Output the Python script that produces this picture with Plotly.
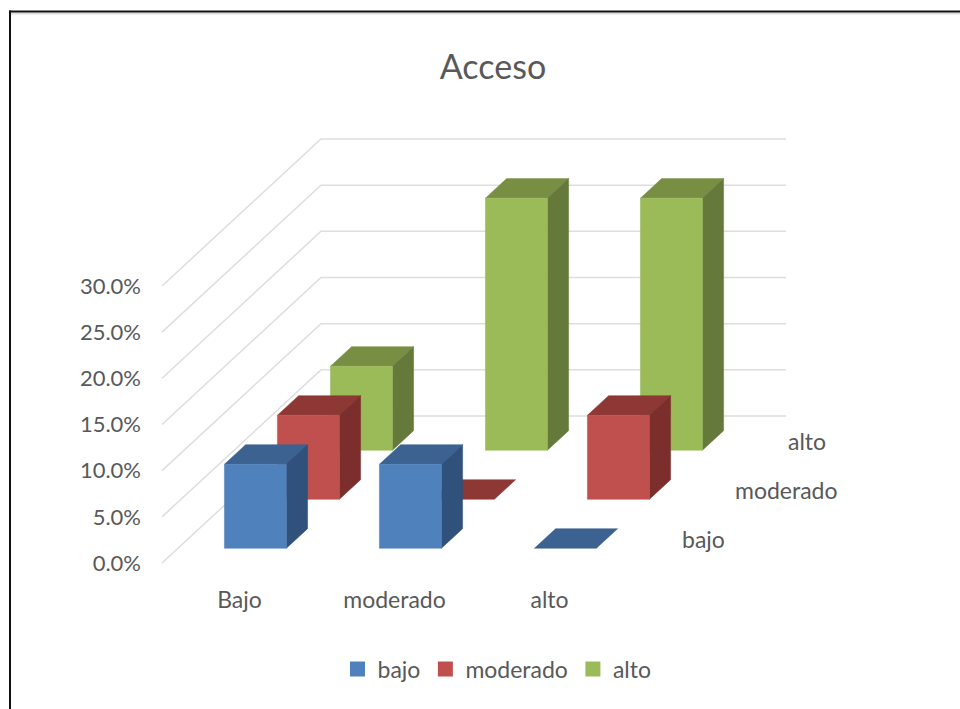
import plotly.graph_objects as go

# Chart data (percent of respondents)
categories = ["Bajo", "moderado", "alto"]
series_names = ["bajo", "moderado", "alto"]
bajo_values = [9.1, 9.1, 0.0]
moderado_values = [9.1, 0.0, 9.1]
alto_values = [9.1, 27.3, 27.3]
value_ticks = [0, 5, 10, 15, 20, 25, 30]

series_values = [bajo_values, moderado_values, alto_values]
front_colors = ["#4F81BD", "#C0504D", "#9BBB59"]
side_colors = ["#2F517C", "#7B2E2C", "#65793A"]
top_colors = ["#3B6290", "#8E3836", "#788F43"]

FONT = "Lato, sans-serif"
TEXT = "#595959"
GRID = "#DEDEDE"

# Page layout of the plotting area, in pixels
W, H = 960, 709
LEFT, RIGHT, TOP, BOTTOM = 150, 800, 100, 584
PX_PER_CAT = 155.0
PX_PER_PCT = 9.234
ORIGIN_X, ORIGIN_Y = 162, 563

# Oblique projection: one step back along the series axis shifts by this much
DEPTH_DX = 53.0 / PX_PER_CAT
DEPTH_DY = 49.0 / PX_PER_PCT
BAR_WIDTH = 0.4
BAR_NEAR, BAR_FAR = 0.3, 0.7


def project(cat, value, depth):
    return cat + depth * DEPTH_DX, value + depth * DEPTH_DY


def polygon(points):
    xy = [project(*p) for p in points] + [project(*points[0])]
    return [p[0] for p in xy], [p[1] for p in xy]


def add_face(fig, points, color):
    xs, ys = polygon(points)
    fig.add_trace(go.Scatter(
        x=xs, y=ys, mode="lines", fill="toself", fillcolor=color,
        line=dict(color=color, width=0.5), hoverinfo="skip", showlegend=False,
    ))


fig = go.Figure()

# Side wall and back wall gridlines
n_series = len(series_names)
n_cats = len(categories)
for v in value_ticks:
    xs, ys = zip(*[project(0, v, 0), project(0, v, n_series), project(n_cats, v, n_series)])
    fig.add_trace(go.Scatter(
        x=xs, y=ys, mode="lines", line=dict(color=GRID, width=1.5),
        hoverinfo="skip", showlegend=False,
    ))

# Boxes, painted from the rear series forward
for s in reversed(range(n_series)):
    for c in range(n_cats):
        v = series_values[s][c]
        x0 = c + (1 - BAR_WIDTH) / 2
        x1 = x0 + BAR_WIDTH
        d0, d1 = s + BAR_NEAR, s + BAR_FAR
        add_face(fig, [(x0, v, d0), (x1, v, d0), (x1, v, d1), (x0, v, d1)], top_colors[s])
        if v > 0:
            add_face(fig, [(x1, 0, d0), (x1, 0, d1), (x1, v, d1), (x1, v, d0)], side_colors[s])
            add_face(fig, [(x0, 0, d0), (x1, 0, d0), (x1, v, d0), (x0, v, d0)], front_colors[s])

# Legend entries
for name, color in zip(series_names, front_colors):
    fig.add_trace(go.Scatter(
        x=[None], y=[None], mode="markers", name=name,
        marker=dict(symbol="square", size=15, color=color),
    ))

# Series names along the right edge of the floor
annotations = []
for s, name in enumerate(series_names):
    x, y = project(n_cats, 0, s + 0.5)
    annotations.append(dict(
        x=x, y=y, text=name, showarrow=False, xanchor="left", yanchor="middle",
        xshift=26, font=dict(family=FONT, size=23, color=TEXT),
    ))


def paper_x(px):
    return (px - LEFT) / (RIGHT - LEFT)


def paper_y(py):
    return (BOTTOM - py) / (BOTTOM - TOP)


# Frame along the top and left of the page
frame = [
    dict(type="line", xref="paper", yref="paper", x0=paper_x(11), x1=paper_x(W),
         y0=paper_y(13.5), y1=paper_y(13.5), line=dict(color="#DDDDDD", width=2)),
    dict(type="line", xref="paper", yref="paper", x0=paper_x(9), x1=paper_x(W),
         y0=paper_y(11.5), y1=paper_y(11.5), line=dict(color="#111111", width=2)),
    dict(type="line", xref="paper", yref="paper", x0=paper_x(10), x1=paper_x(10),
         y0=paper_y(10.5), y1=paper_y(H), line=dict(color="#111111", width=2)),
]

fig.update_layout(
    width=W, height=H, autosize=False,
    margin=dict(l=LEFT, r=W - RIGHT, t=TOP, b=H - BOTTOM, pad=0),
    paper_bgcolor="white", plot_bgcolor="rgba(0,0,0,0)",
    font=dict(family=FONT, size=23, color=TEXT),
    title=dict(
        text="Acceso", x=493 / W, xanchor="center", y=1 - 67 / H, yanchor="middle",
        font=dict(family=FONT, size=34, color=TEXT),
    ),
    xaxis=dict(
        range=[(LEFT - ORIGIN_X) / PX_PER_CAT, (RIGHT - ORIGIN_X) / PX_PER_CAT],
        tickvals=[c + 0.5 for c in range(n_cats)], ticktext=categories,
        showgrid=False, zeroline=False, showline=False, ticks="",
        tickfont=dict(family=FONT, size=23, color=TEXT),
        fixedrange=True,
    ),
    yaxis=dict(
        range=[(ORIGIN_Y - BOTTOM) / PX_PER_PCT, (ORIGIN_Y - TOP) / PX_PER_PCT],
        tickvals=value_ticks, ticktext=[f"{v:.1f}%" for v in value_ticks],
        showgrid=False, zeroline=False, showline=False, ticks="",
        ticklabelstandoff=8,
        tickfont=dict(family=FONT, size=22, color=TEXT),
        fixedrange=True,
    ),
    legend=dict(
        orientation="h", x=497 / W, xref="container", xanchor="center",
        y=1 - 669 / H, yref="container", yanchor="middle",
        font=dict(family=FONT, size=23, color=TEXT),
    ),
    annotations=annotations, shapes=frame,
)

fig.write_html("out.html")
